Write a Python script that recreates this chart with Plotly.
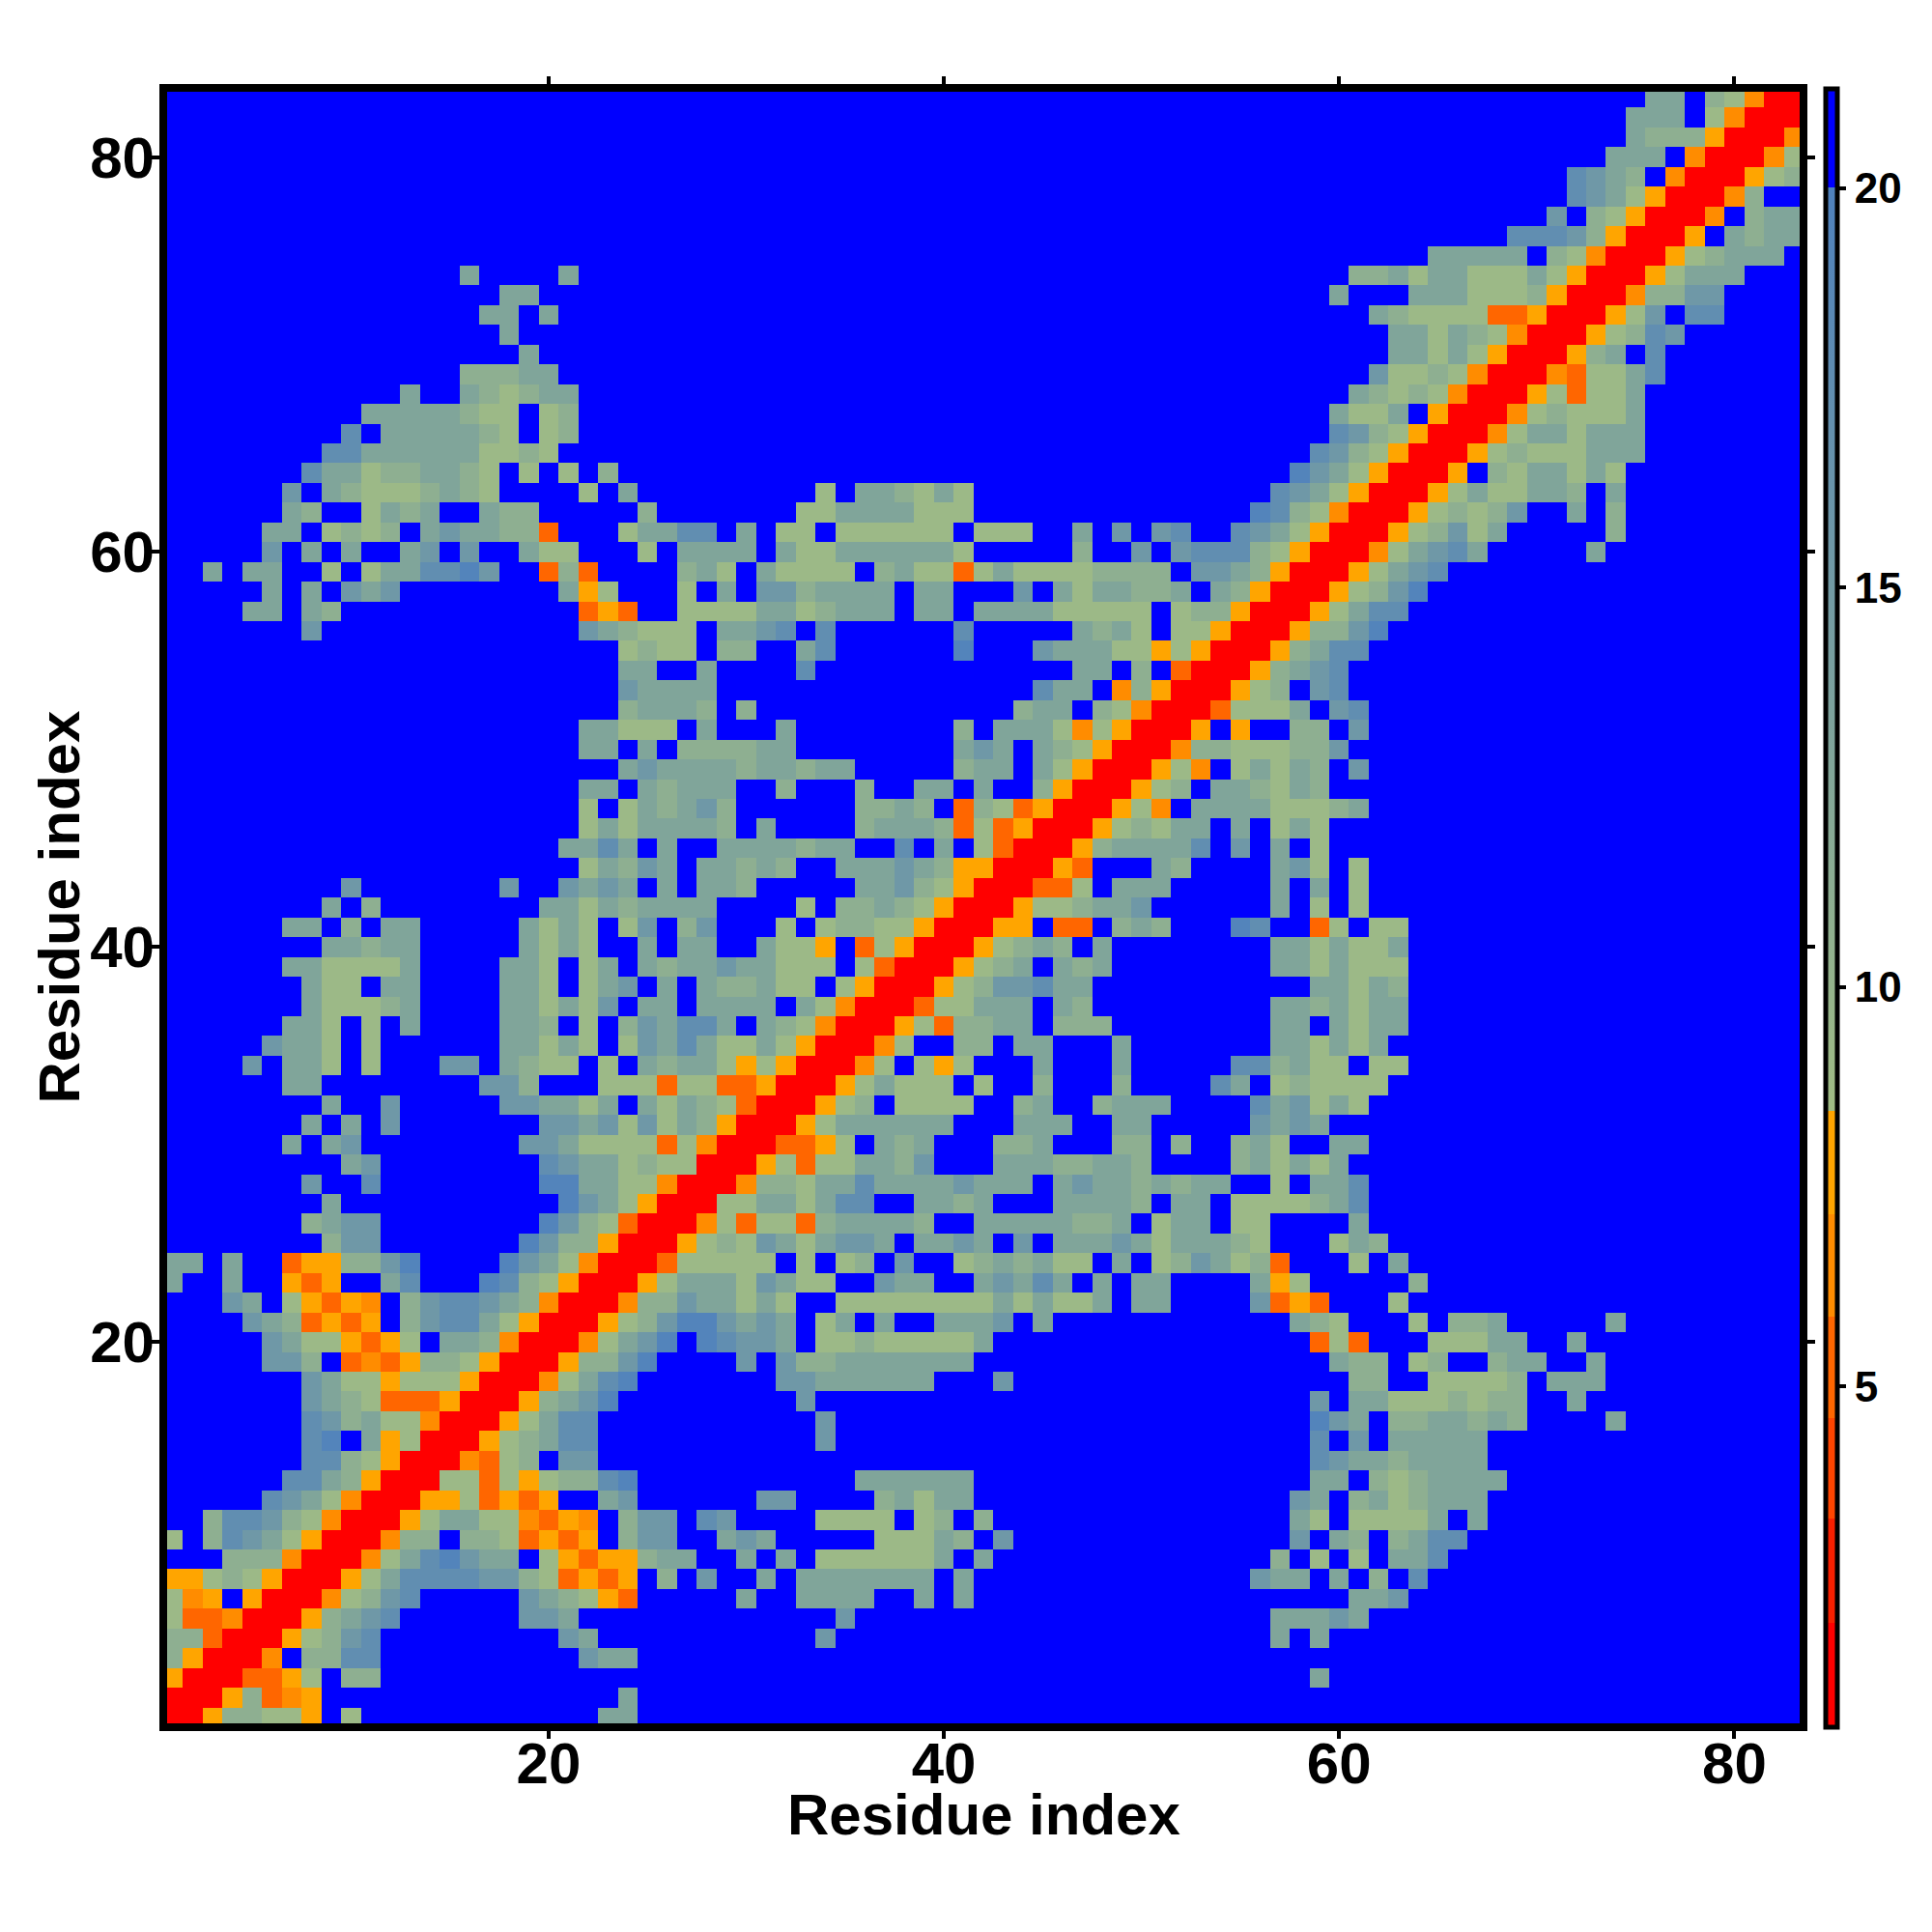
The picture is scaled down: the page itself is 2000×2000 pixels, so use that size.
import plotly.graph_objects as go

N_RESIDUES = 83
AXIS_TICKS = [20, 40, 60, 80]
COLORBAR_TICKS = [5, 10, 15, 20]
AXIS_TITLE = "Residue index"

# distance class read for each colour seen in the picture
CLASS_VALUE = {"r": 1.5, "d": 5.2, "o": 6.5, "y": 7.8, "A": 9.0, "B": 11.0,
               "C": 13.0, "D": 15.5, "E": 17.5, "F": 19.5}
NO_CONTACT = 21.0

# upper triangle only; "col:classes" runs for each residue row, all other cells are no contact
ROW_CELLS = {
    83: "76:CC 79:BAorr",
    82: "75:CCC 79:Aorr",
    81: "75:CBBByrr",
    80: "74:CCC 78:orr",
    79: "72:EDCB 77:orr",
    78: "72:EDCAyrr",
    77: "71:D 73:BAyrr",
    76: "69:EEEDByrr",
    75: "65:CCCCC 71:BAorr",
    74: "16:C 21:C 61:BBCACCAAACAyrr",
    73: "18:CC 60:C 64:CCCAAAByrr",
    72: "17:CC 20:C 62:CBAAAAddyrr",
    71: "18:C 63:CCACBAorr",
    70: "19:C 63:CCACAyrr",
    69: "16:BBBCC 62:DAABAorr",
    68: "13:C 16:CBABCC 61:CBABAorr",
    67: "11:CCCCCBAA 20:AB 60:CAAC 65:yrr",
    66: "10:E 12:CCCCCBA 20:AB 60:EDBAyrr",
    65: "9:EECCCCCCAABA 59:EDBAyrr",
    64: "8:ECCABBCCBA 19:A 21:A 23:B 58:FDCAyrr",
    63: "7:D 9:CBAAABCBA 22:A 24:C 34:A 36:CCBACA 57:EDCAyrr",
    62: "7:CB 11:ACBC 17:CBB 25:B 33:AACCCCAAA 56:FEBAorr",
    61: "6:CC 9:ABAB 14:CDCCBBd 24:ACCEE 30:C 32:AA 35:AAAAAA 42:AAA 47:C 49:D 51:DE 55:EDCAyrr",
    60: "6:D 8:C 10:C 13:CD 16:D 19:CAA 25:A 27:CCCC 32:CAACCCCCCA 47:B 50:D 52:DEEEBAyrr",
    59: "3:C 5:CC 9:A 11:ACCEEFD 20:dBd 27:BCA 31:CAAAA 37:BCAAdACAAAABBBB 53:DDCByrr",
    58: "6:C 8:C 10:DCD 21:CyA 27:A 29:C 31:DDBCCCC 39:CC 44:D 46:CACCBBC 54:CByrr",
    57: "5:CC 8:CB 22:dyd 27:AAAACCABCCC 39:CC 42:CCCCAAAAA 52:ABByrr",
    56: "8:D 22:DCBAAA 29:CCDE 34:E 41:E 47:CBCA 52:AAyrr",
    55: "24:ABAA 29:BB 33:CE 41:F 45:DCCCAAyAyrr",
    54: "24:CC 28:C 33:E 47:CC 50:B 52:drr",
    53: "24:DCCCC 45:ECC 49:oByrr",
    52: "24:BCCCB 30:B 44:BCC 48:BAorr",
    51: "22:CCAAA 28:C 32:C 41:B 43:CCCAoAyrr",
    50: "22:CC 25:C 27:BBBBCC 41:CDC 45:CBAyrr",
    49: "24:CDCCCCBCCBCC 41:BCC 45:CAyrr",
    48: "22:CC 25:CBCCC 32:B 36:B 39:CC 42:C 45:Byrr",
    47: "22:A 24:ACBCDB 36:BBCB 41:dBAdyrr",
    46: "22:ACACCCCB 31:C 36:BCCCBdAdyrr",
    45: "21:CCEC 26:C 29:CCCCBCC 38:E 40:C 42:Adrr",
    44: "22:ACBDC 28:CCBCB 35:CCCDCByyrr",
    43: "10:D 18:D 21:DCDC 26:C 28:CCB 36:CCDBAyrr",
    42: "9:C 11:B 20:CC 22:ACBCCCC 33:A 35:BBCBAyrr",
    41: "7:CC 10:B 12:CC 19:CAC 22:A 24:AD 27:BD 32:A 34:ABBAAyrr",
    40: "9:CCBCC 19:CACA 25:C 27:CC 31:CAAy 36:dAyrr",
    39: "7:CCAAAAC 18:CCA 22:AC 25:CBCCDCCAAA 36:Adrr",
    38: "8:CAA 12:CC 18:CCA 22:ACD 26:C 28:CBBCAA 35:Ayrr",
    37: "8:CAAABC 18:CCACAD 25:CC 28:CCCC 33:CAorr",
    36: "7:CCA 11:A 13:C 18:CCB 22:A 24:BDCEEC 31:CBAorr",
    35: "6:DCCA 11:A 18:CCACA 24:ADCECAACAyrr",
    34: "5:D 7:CCA 11:A 15:DD 18:CBAA 23:A 25:CBCCAyAyrr",
    33: "7:CC 17:DDB 23:AAAdAAddyrr",
    32: "9:C 12:D 18:DDCCAC 25:CACBAdrr",
    31: "8:C 10:C 12:D 20:DDCDADACByrr",
    30: "7:C 9:CD 19:DDCAAAAdAorr",
    29: "10:CD 20:ED 22:CCABAArr",
    28: "8:D 11:E 20:FF 22:CCAAorr",
    27: "9:C 21:FDCAyrr",
    26: "8:BCDD 20:FDBAdrr",
    25: "9:BDD 19:FDBByrr",
    24: "1:CC 4:C 7:dyyBBDF 18:FDCAorrr",
    23: "1:C 4:C 7:ydy 12:CE 17:FEBAyrr",
    22: "4:DC 7:Aydyo 13:BDEEDCBorr",
    21: "5:DCBdydy 13:BDEECAyrr",
    20: "6:DCAAydyA 15:CCBorr",
    19: "6:DDB 10:dodyBBAyrr",
    18: "8:DCAAyAAAyrr",
    17: "8:DCBAdddyrr",
    16: "8:EDBCAAorr",
    15: "8:EF 11:CyArr",
    14: "8:EEBAyrr",
    13: "7:EECByrr",
    12: "6:EDCAorr",
    11: "3:BEEDBAorr",
    10: "1:A 3:BEDCAyrr",
    9: "4:BBBorr",
    8: "1:yyABAyrr",
    7: "1:Aoy 5:yrr",
    6: "1:Addorr",
    5: "1:BBdrr",
    4: "1:Byrr",
    3: "1:yrr",
    2: "1:rr",
    1: "1:r",
}

ZMIN, ZMAX = 0.74, 21.25
STEP_EDGES = [0.74, 2.03, 3.34, 4.6, 5.87, 7.15, 8.44]
STEP_COLOURS = ["#ff0000", "#f82000", "#ff4500", "#ff6600", "#ff8c00", "#ffa500"]
GRADIENT_LOW, GRADIENT_HIGH = "#a0bc84", "#4f81bd"
BREAK_BLUE = 20.0
NO_CONTACT_COLOUR = "#0000ff"

z = [[NO_CONTACT] * N_RESIDUES for _ in range(N_RESIDUES)]
for row, text in ROW_CELLS.items():
    for run in text.split():
        start, classes = run.split(":")
        for k, ch in enumerate(classes):
            col = int(start) + k
            if col <= row:
                z[row - 1][col - 1] = CLASS_VALUE[ch]
                z[col - 1][row - 1] = CLASS_VALUE[ch]


def frac(v):
    return (v - ZMIN) / (ZMAX - ZMIN)


scale = []
for i, colour in enumerate(STEP_COLOURS):
    scale.append([frac(STEP_EDGES[i]), colour])
    scale.append([frac(STEP_EDGES[i + 1]), colour])
scale.append([frac(STEP_EDGES[-1]) + 1e-6, GRADIENT_LOW])
scale.append([frac(BREAK_BLUE), GRADIENT_HIGH])
scale.append([frac(BREAK_BLUE) + 1e-6, NO_CONTACT_COLOUR])
scale.append([1.0, NO_CONTACT_COLOUR])

FONT = "Liberation Sans"
residues = list(range(1, N_RESIDUES + 1))
title_font = dict(family=FONT, size=60, color="black", weight="bold")

fig = go.Figure(go.Heatmap(
    x=residues, y=residues, z=z, zmin=ZMIN, zmax=ZMAX, colorscale=scale, hoverongaps=False,
    colorbar=dict(
        thickness=12, thicknessmode="pixels", len=1696, lenmode="pixels",
        x=1.0135, xanchor="left", xpad=0, y=0.5, yanchor="middle", ypad=0,
        outlinecolor="black", outlinewidth=5, borderwidth=0,
        tickmode="array", tickvals=COLORBAR_TICKS, ticks="outside", ticklen=7,
        tickwidth=4, tickcolor="black",
        tickfont=dict(family=FONT, size=44, color="black", weight="bold"),
    ),
))

axis = dict(
    tickmode="array", tickvals=AXIS_TICKS, ticks="outside", ticklen=11, tickwidth=4,
    tickcolor="black", mirror="allticks", showline=False, showgrid=False, zeroline=False,
    range=[0.5, 83.5], tickfont=dict(family=FONT, size=60, color="black", weight="bold"),
)
fig.update_layout(
    width=2000, height=2000, paper_bgcolor="white", plot_bgcolor="#0000ff",
    margin=dict(l=161, r=141, t=83, b=220, pad=0),
    font=dict(family=FONT, color="black"),
    xaxis=dict(axis, ticklabelstandoff=-26),
    yaxis=dict(axis, ticklabelstandoff=-15),
    annotations=[
        dict(text=AXIS_TITLE, xref="paper", yref="paper", x=0.5, y=0, xanchor="center",
             yanchor="middle", yshift=-90, showarrow=False, font=title_font),
        dict(text=AXIS_TITLE, xref="paper", yref="paper", x=0, y=0.5, xanchor="center",
             yanchor="middle", xshift=-108, textangle=-90, showarrow=False, font=title_font),
    ],
    shapes=[dict(type="rect", xref="paper", yref="paper", x0=0, x1=1, y0=0, y1=1,
                 line=dict(color="black", width=8), fillcolor="rgba(0,0,0,0)", layer="above")],
)
fig.write_html("out.html")
